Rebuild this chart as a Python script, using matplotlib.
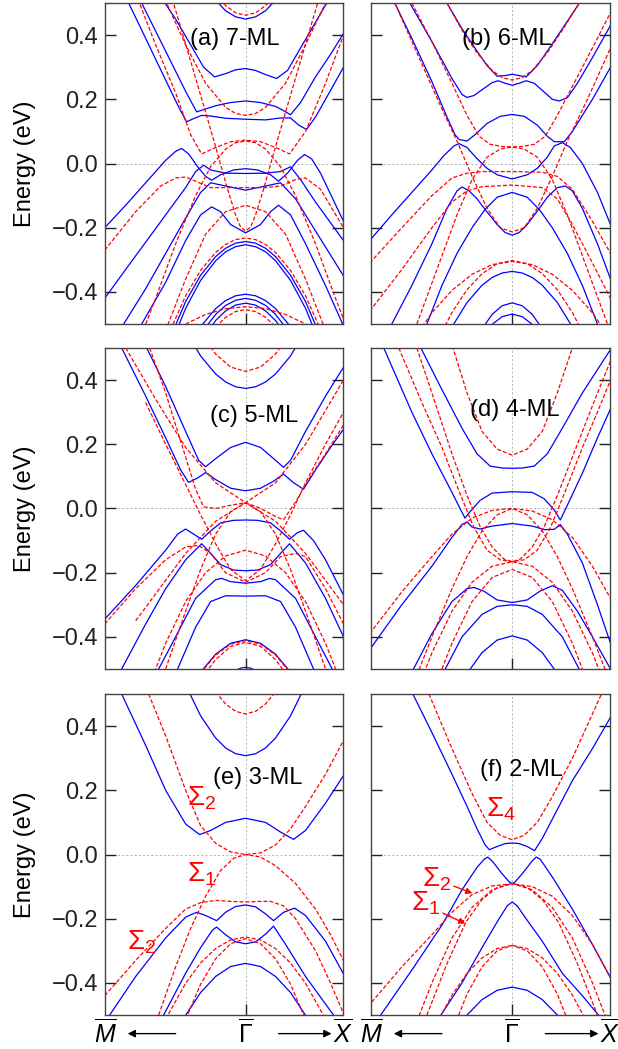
import numpy as np
import matplotlib.pyplot as plt

plt.rcParams['font.family'] = ['Liberation Sans', 'DejaVu Sans']
plt.rcParams['mathtext.fontset'] = 'custom'
plt.rcParams['mathtext.rm'] = 'Liberation Sans'
plt.rcParams['mathtext.it'] = 'Liberation Sans:italic'
plt.rcParams['mathtext.bf'] = 'Liberation Sans:bold'

# k runs from M (left, negative) through Gamma (0) to X (right); energies in eV.
# Each band is a list of (k, E) points.

# ---------------- (a) 7-ML ----------------
A_BLUE = [
    [(-0.4, 0.556), (-0.3, 0.509), (-0.2, 0.476), (-0.1, 0.457), (0, 0.45), (0.1, 0.457), (0.2, 0.476), (0.3, 0.509), (0.4, 0.556)],
    [(-0.85, 0.52), (-0.7, 0.45), (-0.55, 0.37), (-0.42, 0.30), (-0.31, 0.27), (-0.2, 0.28), (-0.1, 0.292), (0, 0.296),
     (0.1, 0.29), (0.2, 0.277), (0.31, 0.265), (0.42, 0.29), (0.55, 0.36), (0.7, 0.44), (0.85, 0.52)],
    [(-1.04, 0.5), (-0.8, 0.35), (-0.6, 0.225), (-0.49, 0.161), (-0.42, 0.168), (-0.3, 0.18), (-0.15, 0.19), (0, 0.195),
     (0.15, 0.19), (0.3, 0.178), (0.38, 0.165), (0.45, 0.152), (0.55, 0.19), (0.7, 0.27), (0.85, 0.34), (0.98, 0.405)],
    [(-1.25, 0.55), (-1.17, 0.5), (-1.0, 0.39), (-0.8, 0.26), (-0.66, 0.17), (-0.59, 0.13), (-0.52, 0.14), (-0.44, 0.15),
     (-0.35, 0.148), (-0.2, 0.141), (0, 0.138), (0.2, 0.136), (0.35, 0.142), (0.45, 0.142), (0.53, 0.12), (0.61, 0.106),
     (0.7, 0.145), (0.8, 0.2), (0.98, 0.3)],
    [(-1.41, -0.2), (-1.2, -0.13), (-1.0, -0.06), (-0.8, 0.01), (-0.7, 0.038), (-0.64, 0.047), (-0.57, 0.03), (-0.48, -0.01),
     (-0.4, -0.04), (-0.34, -0.052), (-0.25, -0.035), (-0.12, -0.02), (0, -0.016), (0.12, -0.02), (0.25, -0.035),
     (0.33, -0.055), (0.42, -0.03), (0.52, 0.01), (0.59, 0.028), (0.66, 0.015), (0.75, -0.03), (0.98, -0.18)],
    [(-1.41, -0.42), (-1.2, -0.33), (-1.0, -0.245), (-0.8, -0.16), (-0.6, -0.075), (-0.5, -0.025), (-0.42, -0.005),
     (-0.35, -0.02), (-0.2, -0.03), (0, -0.031), (0.2, -0.03), (0.35, -0.025), (0.45, -0.01), (0.55, -0.05), (0.7, -0.12),
     (0.98, -0.24)],
    [(-1.22, -0.5), (-1.0, -0.39), (-0.8, -0.28), (-0.6, -0.17), (-0.45, -0.09), (-0.35, -0.06), (-0.2, -0.07), (0, -0.083),
     (0.2, -0.07), (0.35, -0.06), (0.5, -0.11), (0.7, -0.21), (0.98, -0.35)],
    [(-1.04, -0.5), (-0.8, -0.37), (-0.6, -0.24), (-0.45, -0.16), (-0.34, -0.135), (-0.25, -0.15), (-0.15, -0.19), (0, -0.216),
     (0.15, -0.19), (0.25, -0.15), (0.33, -0.13), (0.45, -0.16), (0.6, -0.25), (0.8, -0.38), (1.0, -0.52)],
    [(-0.8, -0.576), (-0.6, -0.43), (-0.45, -0.348), (-0.3, -0.29), (-0.2, -0.264), (-0.1, -0.248), (0, -0.243),
     (0.1, -0.248), (0.2, -0.264), (0.3, -0.29), (0.45, -0.348), (0.6, -0.43), (0.8, -0.576)],
    [(-0.8, -0.605), (-0.6, -0.451), (-0.45, -0.364), (-0.3, -0.303), (-0.2, -0.275), (-0.1, -0.259), (0, -0.253),
     (0.1, -0.259), (0.2, -0.275), (0.3, -0.303), (0.45, -0.364), (0.6, -0.451), (0.8, -0.605)],
    [(-0.45, -0.508), (-0.3, -0.452), (-0.2, -0.427), (-0.1, -0.412), (0, -0.407), (0.1, -0.412), (0.2, -0.427), (0.3, -0.452), (0.45, -0.508)],
    [(-0.45, -0.531), (-0.3, -0.47), (-0.2, -0.442), (-0.1, -0.426), (0, -0.42), (0.1, -0.426), (0.2, -0.442), (0.3, -0.47), (0.45, -0.531)],
    [(-0.45, -0.557), (-0.3, -0.489), (-0.2, -0.459), (-0.1, -0.441), (0, -0.435), (0.1, -0.441), (0.2, -0.459), (0.3, -0.489), (0.45, -0.557)],
]
A_RED = [
    [(-0.3, 0.53), (-0.2, 0.492), (-0.1, 0.4695), (0, 0.462), (0.1, 0.4695), (0.2, 0.492), (0.3, 0.53)],
    [(-0.85, 0.54), (-0.79, 0.5), (-0.6, 0.37), (-0.4, 0.25), (-0.2, 0.175), (-0.1, 0.156), (0, 0.15), (0.1, 0.156),
     (0.2, 0.175), (0.4, 0.25), (0.6, 0.37), (0.8, 0.5)],
    [(-1.1, 0.53), (-0.9, 0.37), (-0.7, 0.22), (-0.55, 0.09), (-0.44, 0.03), (-0.3, 0.05), (-0.15, 0.068), (0, 0.073),
     (0.15, 0.068), (0.3, 0.05), (0.44, 0.03), (0.6, 0.1), (0.8, 0.25), (0.98, 0.40)],
    [(-1.0, -0.5), (-0.9, -0.42), (-0.7, -0.25), (-0.5, -0.1), (-0.35, -0.01), (-0.2, 0.045), (-0.1, 0.065), (0, 0.07),
     (0.1, 0.065), (0.2, 0.045), (0.35, -0.01), (0.5, -0.1), (0.7, -0.25), (0.9, -0.42), (1.0, -0.5)],
    [(-0.75, 0.53), (-0.57, 0.34), (-0.4, 0.16), (-0.27, 0.02), (-0.18, -0.08), (-0.1, -0.16), (-0.05, -0.198), (0, -0.21),
     (0.05, -0.198), (0.1, -0.16), (0.18, -0.08), (0.27, 0.02), (0.4, 0.16), (0.57, 0.34), (0.75, 0.53)],
    [(-1.41, -0.27), (-1.1, -0.15), (-0.85, -0.07), (-0.7, -0.045), (-0.6, -0.042), (-0.5, -0.055), (-0.35, -0.075),
     (-0.2, -0.075), (0, -0.075), (0.2, -0.075), (0.35, -0.07), (0.5, -0.05), (0.6, -0.045), (0.75, -0.08), (0.98, -0.2)],
    [(-0.8, -0.52), (-0.6, -0.36), (-0.4, -0.22), (-0.2, -0.15), (0, -0.13), (0.2, -0.15), (0.4, -0.22), (0.6, -0.36), (0.8, -0.52)],
    [(-0.8, -0.552), (-0.6, -0.412), (-0.45, -0.333), (-0.3, -0.277), (-0.2, -0.252), (-0.1, -0.237), (0, -0.232),
     (0.1, -0.237), (0.2, -0.252), (0.3, -0.277), (0.45, -0.333), (0.6, -0.412), (0.8, -0.552)],
    [(-0.8, -0.542), (-0.6, -0.5), (-0.4, -0.47), (-0.2, -0.452), (0, -0.446), (0.2, -0.452), (0.4, -0.47), (0.6, -0.5), (0.8, -0.542)],
    [(-0.3, -0.509), (-0.2, -0.479), (-0.1, -0.461), (0, -0.455), (0.1, -0.461), (0.2, -0.479), (0.3, -0.509)],
]

# ---------------- (b) 6-ML ----------------
B_BLUE = [
    [(-0.8, 0.6), (-0.65, 0.5), (-0.5, 0.42), (-0.35, 0.35), (-0.25, 0.305), (-0.15, 0.272), (-0.07, 0.274), (0, 0.278),
     (0.07, 0.274), (0.14, 0.27), (0.25, 0.305), (0.35, 0.35), (0.5, 0.42), (0.67, 0.5), (0.8, 0.57)],
    [(-1.02, 0.5), (-0.8, 0.38), (-0.6, 0.265), (-0.5, 0.215), (-0.45, 0.206), (-0.38, 0.212), (-0.3, 0.23), (-0.2, 0.252),
     (-0.14, 0.258), (-0.07, 0.25), (0, 0.244), (0.07, 0.25), (0.14, 0.258), (0.22, 0.25), (0.3, 0.228), (0.4, 0.2),
     (0.47, 0.195), (0.55, 0.205), (0.65, 0.25), (0.8, 0.33), (0.98, 0.43)],
    [(-1.17, 0.5), (-1.0, 0.39), (-0.8, 0.255), (-0.65, 0.145), (-0.57, 0.09), (-0.53, 0.075), (-0.45, 0.07), (-0.37, 0.09),
     (-0.25, 0.125), (-0.12, 0.147), (0, 0.153), (0.12, 0.147), (0.25, 0.12), (0.35, 0.085), (0.42, 0.068), (0.52, 0.068),
     (0.6, 0.1), (0.8, 0.2), (0.98, 0.30)],
    [(-1.42, -0.24), (-1.2, -0.16), (-1.0, -0.09), (-0.8, -0.02), (-0.68, 0.025), (-0.58, 0.055), (-0.53, 0.062),
     (-0.45, 0.05), (-0.35, 0.015), (-0.25, -0.015), (-0.15, -0.035), (0, -0.048), (0.15, -0.035), (0.25, -0.015),
     (0.35, 0.02), (0.42, 0.055), (0.5, 0.065), (0.58, 0.05), (0.7, 0.0), (0.85, -0.09), (0.98, -0.19)],
    [(-1.2, -0.5), (-1.0, -0.38), (-0.8, -0.25), (-0.65, -0.14), (-0.55, -0.085), (-0.5, -0.073), (-0.43, -0.085),
     (-0.35, -0.11), (-0.27, -0.143), (-0.15, -0.19), (-0.07, -0.215), (0, -0.223), (0.07, -0.215), (0.15, -0.19),
     (0.27, -0.14), (0.35, -0.105), (0.45, -0.075), (0.53, -0.07), (0.6, -0.085), (0.7, -0.14), (0.85, -0.25), (0.98, -0.36)],
    [(-1.0, -0.62), (-0.85, -0.5), (-0.7, -0.38), (-0.55, -0.28), (-0.4, -0.2), (-0.27, -0.143), (-0.15, -0.105), (0, -0.09),
     (0.15, -0.105), (0.27, -0.143), (0.4, -0.2), (0.55, -0.28), (0.7, -0.38), (0.85, -0.5), (1.0, -0.62)],
    [(-0.6, -0.509), (-0.45, -0.433), (-0.3, -0.379), (-0.2, -0.355), (-0.1, -0.341), (0, -0.336), (0.1, -0.341),
     (0.2, -0.355), (0.3, -0.379), (0.45, -0.433), (0.6, -0.509)],
    [(-0.3, -0.515), (-0.2, -0.47), (-0.1, -0.443), (0, -0.434), (0.1, -0.443), (0.2, -0.47), (0.3, -0.515)],
    [(-0.3, -0.541), (-0.2, -0.501), (-0.1, -0.477), (0, -0.469), (0.1, -0.477), (0.2, -0.501), (0.3, -0.541)],
]
B_RED = [
    [(-0.65, 0.5), (-0.5, 0.415), (-0.35, 0.345), (-0.2, 0.29), (-0.1, 0.268), (0, 0.26), (0.1, 0.268), (0.2, 0.29),
     (0.35, 0.345), (0.5, 0.415), (0.67, 0.5)],
    [(-1.0, 0.5), (-0.8, 0.38), (-0.6, 0.25), (-0.45, 0.15), (-0.33, 0.085), (-0.22, 0.06), (-0.1, 0.053), (0, 0.052),
     (0.1, 0.053), (0.22, 0.06), (0.33, 0.085), (0.45, 0.15), (0.6, 0.24), (0.8, 0.36), (0.98, 0.47)],
    [(-0.95, -0.5), (-0.75, -0.33), (-0.55, -0.16), (-0.4, -0.05), (-0.25, 0.02), (-0.12, 0.045), (0, 0.052),
     (0.12, 0.045), (0.25, 0.02), (0.4, -0.05), (0.55, -0.16), (0.75, -0.33), (0.95, -0.5)],
    [(-1.42, -0.31), (-1.1, -0.2), (-0.8, -0.1), (-0.6, -0.045), (-0.45, -0.03), (-0.3, -0.025), (0, -0.025),
     (0.3, -0.027), (0.45, -0.04), (0.6, -0.08), (0.8, -0.18), (0.98, -0.28)],
    [(-1.42, -0.46), (-1.1, -0.33), (-0.8, -0.2), (-0.6, -0.12), (-0.45, -0.085), (-0.3, -0.072), (0, -0.067),
     (0.3, -0.075), (0.45, -0.11), (0.6, -0.19), (0.8, -0.31), (0.98, -0.42)],
    [(-1.17, 0.5), (-0.9, 0.31), (-0.7, 0.17), (-0.55, 0.07), (-0.4, -0.04), (-0.25, -0.14), (-0.12, -0.2), (0, -0.213),
     (0.12, -0.2), (0.25, -0.14), (0.4, -0.04), (0.55, 0.07), (0.75, 0.2), (0.98, 0.36)],
    [(-0.75, -0.555), (-0.6, -0.464), (-0.45, -0.393), (-0.3, -0.343), (-0.15, -0.312), (0, -0.302), (0.15, -0.312),
     (0.3, -0.343), (0.45, -0.393), (0.6, -0.464), (0.75, -0.555)],
    [(-1.0, -0.555), (-0.8, -0.465), (-0.6, -0.395), (-0.4, -0.345), (-0.2, -0.315), (0, -0.305), (0.2, -0.315),
     (0.4, -0.345), (0.6, -0.395), (0.8, -0.465), (1.0, -0.555)],
]

# ---------------- (c) 5-ML ----------------
C_BLUE = [
    [(-0.6, 0.554), (-0.45, 0.475), (-0.3, 0.419), (-0.2, 0.394), (-0.1, 0.379), (0, 0.374), (0.1, 0.379), (0.2, 0.394),
     (0.3, 0.419), (0.45, 0.475), (0.6, 0.554)],
    [(-0.99, 0.5), (-0.8, 0.38), (-0.6, 0.24), (-0.47, 0.15), (-0.4, 0.13), (-0.3, 0.155), (-0.15, 0.19), (0, 0.206),
     (0.15, 0.19), (0.3, 0.15), (0.38, 0.128), (0.45, 0.15), (0.6, 0.24), (0.8, 0.35), (0.98, 0.44)],
    [(-1.24, 0.5), (-1.0, 0.35), (-0.8, 0.22), (-0.65, 0.12), (-0.57, 0.081), (-0.48, 0.095), (-0.4, 0.112), (-0.3, 0.09),
     (-0.15, 0.063), (0, 0.055), (0.15, 0.063), (0.28, 0.085), (0.38, 0.107), (0.48, 0.08), (0.58, 0.06), (0.7, 0.12),
     (0.85, 0.19), (0.98, 0.247)],
    [(-1.41, -0.345), (-1.1, -0.24), (-0.8, -0.13), (-0.68, -0.08), (-0.6, -0.064), (-0.52, -0.08), (-0.44, -0.096),
     (-0.35, -0.07), (-0.25, -0.045), (-0.12, -0.037), (0, -0.036), (0.12, -0.037), (0.25, -0.045), (0.35, -0.07),
     (0.44, -0.096), (0.52, -0.075), (0.58, -0.068), (0.68, -0.1), (0.8, -0.16), (0.98, -0.27)],
    [(-1.24, -0.5), (-1.0, -0.36), (-0.8, -0.25), (-0.6, -0.16), (-0.44, -0.11), (-0.35, -0.14), (-0.25, -0.175),
     (-0.12, -0.192), (0, -0.194), (0.12, -0.192), (0.25, -0.175), (0.35, -0.14), (0.44, -0.11), (0.6, -0.17),
     (0.8, -0.28), (0.98, -0.4)],
    [(-0.87, -0.5), (-0.7, -0.4), (-0.5, -0.28), (-0.3, -0.222), (-0.24, -0.218), (-0.15, -0.228), (0, -0.233),
     (0.15, -0.228), (0.24, -0.218), (0.3, -0.222), (0.5, -0.28), (0.7, -0.4), (0.9, -0.52)],
    [(-0.68, -0.5), (-0.5, -0.37), (-0.35, -0.29), (-0.2, -0.272), (0, -0.273), (0.2, -0.272), (0.35, -0.29), (0.5, -0.37), (0.68, -0.5)],
    [(-0.45, -0.51), (-0.3, -0.454), (-0.15, -0.42), (0, -0.409), (0.15, -0.42), (0.3, -0.454), (0.45, -0.51)],
    [(-0.1, -0.505), (-0.05, -0.4975), (0, -0.495), (0.05, -0.4975), (0.1, -0.505)],
]
C_RED = [
    [(-0.45, 0.549), (-0.3, 0.481), (-0.15, 0.4405), (0, 0.427), (0.15, 0.4405), (0.3, 0.481), (0.45, 0.549)],
    [(-0.96, 0.5), (-0.8, 0.36), (-0.6, 0.16), (-0.5, 0.06), (-0.42, 0.005), (-0.3, 0.0), (-0.15, 0.01), (0, 0.018),
     (0.15, 0.0), (0.3, -0.025), (0.38, -0.035), (0.5, 0.02), (0.65, 0.1), (0.8, 0.17), (0.98, 0.26)],
    [(-1.2, 0.5), (-0.9, 0.34), (-0.6, 0.19), (-0.3, 0.08), (0, 0.018), (0.3, -0.04), (0.6, -0.14), (0.98, -0.3)],
    [(-1.1, -0.35), (-0.6, -0.14), (-0.3, -0.04), (0, 0.018), (0.3, 0.08), (0.6, 0.2), (0.98, 0.4)],
    [(-0.8, -0.5), (-0.6, -0.32), (-0.45, -0.19), (-0.3, -0.08), (-0.15, -0.01), (0, 0.018), (0.15, -0.01), (0.3, -0.08),
     (0.45, -0.19), (0.6, -0.32), (0.8, -0.5)],
    [(-1.0, 0.33), (-0.8, 0.2), (-0.64, 0.1), (-0.45, -0.02), (-0.3, -0.11), (-0.15, -0.19), (0, -0.225), (0.15, -0.19),
     (0.3, -0.11), (0.45, -0.02), (0.6, 0.08), (0.8, 0.2), (0.98, 0.3)],
    [(-1.0, -0.58), (-0.8, -0.42), (-0.6, -0.29), (-0.4, -0.2), (-0.2, -0.148), (0, -0.13), (0.2, -0.148), (0.4, -0.2),
     (0.6, -0.29), (0.8, -0.42), (1.0, -0.58)],
    [(-1.41, -0.36), (-1.1, -0.25), (-0.8, -0.16), (-0.6, -0.12), (-0.47, -0.115), (-0.35, -0.14), (-0.2, -0.2), (0, -0.23),
     (0.2, -0.2), (0.35, -0.15), (0.5, -0.14), (0.6, -0.15), (0.8, -0.25), (0.98, -0.36)],
    [(-0.45, -0.513), (-0.3, -0.457), (-0.15, -0.423), (0, -0.412), (0.15, -0.423), (0.3, -0.457), (0.45, -0.513)],
    [(-0.4, -0.513), (-0.3, -0.471), (-0.15, -0.43), (0, -0.417), (0.15, -0.43), (0.3, -0.471), (0.4, -0.513)],
]

# ---------------- (d) 4-ML ----------------
D_BLUE = [
    [(-0.91, 0.5), (-0.7, 0.37), (-0.5, 0.25), (-0.35, 0.17), (-0.22, 0.132), (-0.1, 0.126), (0, 0.125), (0.1, 0.126),
     (0.22, 0.132), (0.35, 0.17), (0.5, 0.25), (0.7, 0.36), (0.99, 0.5)],
    [(-1.28, 0.5), (-1.0, 0.3), (-0.8, 0.17), (-0.6, 0.05), (-0.52, 0.0), (-0.47, -0.03), (-0.42, -0.01), (-0.32, 0.025),
     (-0.2, 0.048), (0, 0.052), (0.2, 0.05), (0.32, 0.03), (0.42, -0.005), (0.48, -0.036), (0.55, 0.01), (0.7, 0.11),
     (0.85, 0.22), (0.98, 0.31)],
    [(-1.42, -0.44), (-1.1, -0.3), (-0.8, -0.18), (-0.6, -0.09), (-0.5, -0.05), (-0.45, -0.042), (-0.4, -0.058),
     (-0.32, -0.064), (-0.2, -0.055), (0, -0.047), (0.2, -0.055), (0.32, -0.066), (0.42, -0.065), (0.48, -0.05),
     (0.55, -0.08), (0.7, -0.17), (0.85, -0.3), (0.98, -0.42)],
    [(-1.0, -0.51), (-0.8, -0.39), (-0.6, -0.29), (-0.45, -0.25), (-0.38, -0.246), (-0.28, -0.258), (-0.15, -0.285),
     (0, -0.293), (0.15, -0.285), (0.28, -0.257), (0.4, -0.241), (0.5, -0.255), (0.65, -0.32), (0.8, -0.4), (0.98, -0.5)],
    [(-0.7, -0.52), (-0.5, -0.4), (-0.3, -0.33), (-0.15, -0.305), (0, -0.3), (0.15, -0.305), (0.3, -0.33), (0.5, -0.4), (0.7, -0.52)],
    [(-0.45, -0.514), (-0.3, -0.449), (-0.15, -0.41), (0, -0.397), (0.15, -0.41), (0.3, -0.449), (0.45, -0.514)],
]
D_RED = [
    [(-0.65, 0.56), (-0.59, 0.5), (-0.45, 0.36), (-0.3, 0.24), (-0.15, 0.185), (0, 0.166), (0.15, 0.185), (0.3, 0.24),
     (0.45, 0.36), (0.6, 0.5)],
    [(-1.42, -0.39), (-1.1, -0.26), (-0.8, -0.15), (-0.6, -0.08), (-0.4, -0.03), (-0.2, -0.006), (0, 0.0), (0.2, -0.008),
     (0.4, -0.035), (0.6, -0.09), (0.8, -0.18), (0.98, -0.28)],
    [(-0.95, -0.52), (-0.8, -0.4), (-0.6, -0.25), (-0.45, -0.15), (-0.3, -0.07), (-0.15, -0.02), (0, 0.0), (0.15, -0.02),
     (0.3, -0.07), (0.45, -0.15), (0.6, -0.25), (0.8, -0.4), (0.95, -0.52)],
    [(-0.95, 0.5), (-0.8, 0.36), (-0.6, 0.17), (-0.45, 0.04), (-0.32, -0.056), (-0.2, -0.12), (-0.08, -0.158), (0, -0.166),
     (0.08, -0.158), (0.2, -0.12), (0.32, -0.056), (0.45, 0.04), (0.6, 0.16), (0.8, 0.32), (0.98, 0.46)],
    [(-1.13, 0.5), (-0.9, 0.33), (-0.7, 0.19), (-0.55, 0.07), (-0.46, 0.0), (-0.38, -0.06), (-0.25, -0.13), (-0.12, -0.16),
     (0, -0.166), (0.12, -0.16), (0.25, -0.13), (0.38, -0.06), (0.46, 0.0), (0.55, 0.07), (0.7, 0.19), (0.85, 0.3), (0.98, 0.4)],
    [(-0.9, -0.53), (-0.8, -0.45), (-0.6, -0.32), (-0.4, -0.23), (-0.2, -0.18), (0, -0.166), (0.2, -0.18), (0.4, -0.23),
     (0.6, -0.32), (0.8, -0.45), (0.9, -0.53)],
    [(-0.7, -0.5), (-0.6, -0.42), (-0.4, -0.29), (-0.2, -0.215), (0, -0.19), (0.2, -0.215), (0.4, -0.29), (0.6, -0.42), (0.7, -0.5)],
]

# ---------------- (e) 3-ML ----------------
E_BLUE = [
    [(-0.6, 0.528), (-0.45, 0.432), (-0.3, 0.363), (-0.2, 0.332), (-0.1, 0.314), (0, 0.308), (0.1, 0.314), (0.2, 0.332),
     (0.3, 0.363), (0.45, 0.432), (0.6, 0.528)],
    [(-1.24, 0.5), (-1.0, 0.34), (-0.8, 0.2), (-0.6, 0.095), (-0.46, 0.062), (-0.35, 0.075), (-0.2, 0.1), (0, 0.113),
     (0.2, 0.1), (0.35, 0.07), (0.48, 0.047), (0.6, 0.075), (0.8, 0.16), (0.98, 0.246)],
    [(-1.36, -0.5), (-1.1, -0.38), (-0.8, -0.26), (-0.6, -0.195), (-0.49, -0.18), (-0.4, -0.19), (-0.29, -0.206),
     (-0.2, -0.18), (-0.1, -0.162), (0, -0.157), (0.1, -0.163), (0.2, -0.185), (0.28, -0.206), (0.38, -0.18),
     (0.49, -0.167), (0.6, -0.19), (0.8, -0.27), (0.98, -0.372)],
    [(-0.82, -0.5), (-0.6, -0.37), (-0.45, -0.29), (-0.33, -0.235), (-0.29, -0.226), (-0.2, -0.25), (-0.1, -0.272),
     (0, -0.278), (0.1, -0.272), (0.2, -0.248), (0.28, -0.223), (0.4, -0.28), (0.6, -0.38), (0.88, -0.5)],
    [(-0.7, -0.56), (-0.6, -0.501), (-0.45, -0.43), (-0.3, -0.38), (-0.15, -0.349), (0, -0.339), (0.15, -0.349),
     (0.3, -0.38), (0.45, -0.43), (0.6, -0.501), (0.7, -0.56)],
]
E_RED = [
    [(-0.3, 0.507), (-0.2, 0.469), (-0.1, 0.446), (0, 0.438), (0.1, 0.446), (0.2, 0.469), (0.3, 0.507)],
    [(-0.97, 0.5), (-0.8, 0.37), (-0.6, 0.2), (-0.45, 0.09), (-0.3, 0.035), (-0.15, 0.008), (0, 0.0), (0.15, 0.005),
     (0.3, 0.03), (0.45, 0.08), (0.6, 0.15), (0.8, 0.25), (0.98, 0.355)],
    [(-0.87, -0.5), (-0.7, -0.35), (-0.55, -0.23), (-0.4, -0.13), (-0.25, -0.05), (-0.12, -0.012), (0, 0.0),
     (0.15, -0.008), (0.3, -0.035), (0.5, -0.09), (0.7, -0.17), (0.85, -0.25), (0.98, -0.33)],
    [(-1.41, -0.44), (-1.1, -0.33), (-0.8, -0.23), (-0.6, -0.17), (-0.45, -0.15), (-0.3, -0.143), (-0.15, -0.146),
     (0, -0.148), (0.15, -0.146), (0.25, -0.146), (0.38, -0.16), (0.5, -0.2), (0.7, -0.3), (0.85, -0.4), (0.98, -0.496)],
    [(-0.8, -0.513), (-0.6, -0.401), (-0.45, -0.338), (-0.3, -0.293), (-0.15, -0.266), (0, -0.257), (0.15, -0.266),
     (0.3, -0.293), (0.45, -0.338), (0.6, -0.401), (0.8, -0.513)],
    [(-0.6, -0.514), (-0.45, -0.404), (-0.3, -0.325), (-0.15, -0.278), (0, -0.262), (0.15, -0.278), (0.3, -0.325),
     (0.45, -0.404), (0.6, -0.514)],
]

# ---------------- (f) 2-ML ----------------
F_BLUE = [
    [(-0.99, 0.5), (-0.8, 0.38), (-0.6, 0.25), (-0.45, 0.15), (-0.35, 0.08), (-0.27, 0.03), (-0.227, 0.015), (-0.15, 0.025),
     (-0.07, 0.034), (0, 0.036), (0.07, 0.034), (0.15, 0.025), (0.223, 0.012), (0.3, 0.05), (0.45, 0.14), (0.6, 0.23),
     (0.8, 0.33), (0.99, 0.433)],
    [(-1.31, -0.5), (-1.0, -0.36), (-0.7, -0.22), (-0.5, -0.11), (-0.35, -0.04), (-0.28, -0.015), (-0.243, -0.008),
     (-0.2, -0.02), (-0.1, -0.06), (-0.03, -0.085), (0, -0.091), (0.03, -0.085), (0.1, -0.06), (0.2, -0.02),
     (0.24, -0.008), (0.28, -0.015), (0.4, -0.07), (0.6, -0.17), (0.8, -0.28), (0.99, -0.39)],
    [(-0.71, -0.5), (-0.5, -0.4), (-0.3, -0.29), (-0.15, -0.21), (-0.05, -0.16), (0, -0.148), (0.05, -0.16), (0.15, -0.205),
     (0.3, -0.27), (0.5, -0.37), (0.7, -0.44), (0.86, -0.5)],
    [(-0.45, -0.5), (-0.3, -0.452), (-0.15, -0.423), (0, -0.413), (0.15, -0.423), (0.3, -0.452), (0.45, -0.5)],
]
F_RED = [
    [(-0.83, 0.5), (-0.6, 0.33), (-0.4, 0.19), (-0.25, 0.1), (-0.12, 0.06), (0, 0.046), (0.12, 0.06), (0.25, 0.1),
     (0.4, 0.18), (0.6, 0.3), (0.89, 0.5)],
    [(-1.4, -0.46), (-1.1, -0.35), (-0.8, -0.25), (-0.6, -0.18), (-0.4, -0.125), (-0.2, -0.098), (0, -0.091), (0.2, -0.1),
     (0.4, -0.13), (0.6, -0.19), (0.8, -0.28), (0.99, -0.39)],
    [(-0.85, -0.5), (-0.65, -0.34), (-0.46, -0.21), (-0.3, -0.14), (-0.15, -0.103), (0, -0.091), (0.15, -0.103),
     (0.3, -0.14), (0.46, -0.21), (0.65, -0.34), (0.85, -0.5)],
    [(-0.95, -0.52), (-0.8, -0.4), (-0.6, -0.26), (-0.4, -0.165), (-0.2, -0.11), (0, -0.09), (0.2, -0.11), (0.4, -0.165),
     (0.6, -0.26), (0.8, -0.4), (0.95, -0.52)],
    [(-0.75, -0.525), (-0.6, -0.438), (-0.45, -0.37), (-0.3, -0.322), (-0.15, -0.293), (0, -0.283), (0.15, -0.293),
     (0.3, -0.322), (0.45, -0.37), (0.6, -0.438), (0.75, -0.525)],
    [(-0.6, -0.553), (-0.45, -0.435), (-0.3, -0.35), (-0.15, -0.3), (0, -0.283), (0.15, -0.3), (0.3, -0.35),
     (0.45, -0.435), (0.6, -0.553)],
]

PANEL_TITLES = ["(a) 7-ML", "(b) 6-ML", "(c) 5-ML", "(d) 4-ML", "(e) 3-ML", "(f) 2-ML"]
YTICKS = [-0.4, -0.2, 0.0, 0.2, 0.4]
YTICKLABELS = ['\u22120.4', '\u22120.2', '0.0', '0.2', '0.4']

BLUE = '#0000ff'
RED = '#ff0000'
FS = 17
SFS = 20   # size of the Sigma labels

fig = plt.figure(figsize=(6.18, 10.49), dpi=100)

col_left = [105 / 618, 371 / 618]
col_w = [238 / 618, 239 / 618]
row_bottom = [0.6911, 0.3623, 0.0324]
row_h = 321 / 1049

title_pos = [(-0.557, 0.387), (-0.50, 0.387), (-0.357, 0.287),
             (-0.417, 0.306), (-0.327, 0.237), (-0.317, 0.262)]

blue_sets = [A_BLUE, B_BLUE, C_BLUE, D_BLUE, E_BLUE, F_BLUE]
red_sets = [A_RED, B_RED, C_RED, D_RED, E_RED, F_RED]

axes = []
for i in range(6):
    r, c = divmod(i, 2)
    ax = fig.add_axes([col_left[c], row_bottom[r], col_w[c], row_h])
    axes.append(ax)

    ax.axhline(0, color='#aaaaaa', lw=0.6, ls=(0, (2.5, 2.5)), zorder=1)
    ax.axvline(0, color='#aaaaaa', lw=0.6, ls=(0, (2.5, 2.5)), zorder=1)

    for band in blue_sets[i]:
        k, e = np.array(band).T
        ax.plot(k, e, color=BLUE, lw=0.9, zorder=2)
    for band in red_sets[i]:
        k, e = np.array(band).T
        ax.plot(k, e, color=RED, lw=0.9, dashes=(3.2, 1.6), zorder=3)

    ax.set_xlim(-1.407, 0.975)
    ax.set_ylim(-0.5, 0.5)
    ax.set_yticks(YTICKS)
    ax.set_xticks([0])
    ax.tick_params(axis='y', which='both', direction='in', length=8, width=1.0,
                   left=True, right=True, labelsize=FS, pad=5, colors='#222222')
    ax.tick_params(axis='x', direction='in', length=8, width=1.0,
                   bottom=True, top=False, labelbottom=False, colors='#222222')
    for s in ax.spines.values():
        s.set_linewidth(1.0)
        s.set_color('#444444')
    if c == 0:
        ax.set_yticklabels(YTICKLABELS)
    else:
        ax.set_yticklabels([])

    tx, ty = title_pos[i]
    ax.text(tx, ty, PANEL_TITLES[i], fontsize=FS, ha='left', va='center', color='black', zorder=5)

# y labels
for yc in [0.8441, 0.5153, 0.1854]:
    fig.text(25 / 618, yc, 'Energy (eV)', rotation=90, ha='center', va='center', fontsize=FS)

# Sigma labels
axE, axF = axes[4], axes[5]
axE.text(-0.59, 0.175, 'Σ$_2$', color=RED, fontsize=SFS, ha='left', va='center')
axE.text(-0.59, -0.06, 'Σ$_1$', color=RED, fontsize=SFS, ha='left', va='center')
axE.text(-1.19, -0.272, 'Σ$_2$', color=RED, fontsize=SFS, ha='left', va='center')
axF.text(-0.26, 0.14, 'Σ$_4$', color=RED, fontsize=SFS, ha='left', va='center')
axF.annotate('Σ$_2$', xy=(-0.397, -0.121), xytext=(-0.90, -0.078), color=RED, fontsize=SFS,
             ha='left', va='center',
             arrowprops=dict(arrowstyle='-|>', color=RED, lw=1.0, mutation_scale=9, shrinkA=0, shrinkB=0,
                             relpos=(1.0, 0.3)))
axF.annotate('Σ$_1$', xy=(-0.467, -0.215), xytext=(-1.01, -0.153), color=RED, fontsize=SFS,
             ha='left', va='center',
             arrowprops=dict(arrowstyle='-|>', color=RED, lw=1.0, mutation_scale=9, shrinkA=0, shrinkB=0,
                             relpos=(1.0, 0.2)))

# k-path labels under bottom panels
for ax in (axE, axF):
    tr = ax.get_xaxis_transform()
    yb = -0.058
    ax.text(-1.407, yb, r'$\overline{M}$', transform=tr, ha='center', va='center', fontsize=18, clip_on=False)
    ax.text(0.0, yb, r'$\overline{\Gamma}$', transform=tr, ha='center', va='center', fontsize=18, clip_on=False)
    ax.text(0.975, yb, r'$\overline{X}$', transform=tr, ha='center', va='center', fontsize=18, clip_on=False)
    ax.annotate('', xy=(-1.18, yb), xytext=(-0.70, yb), xycoords=tr, textcoords=tr,
                arrowprops=dict(arrowstyle='-|>', color='black', lw=1.0, mutation_scale=11, shrinkA=0, shrinkB=0),
                annotation_clip=False)
    ax.annotate('', xy=(0.86, yb), xytext=(0.33, yb), xycoords=tr, textcoords=tr,
                arrowprops=dict(arrowstyle='-|>', color='black', lw=1.0, mutation_scale=11, shrinkA=0, shrinkB=0),
                annotation_clip=False)

fig.savefig('out.png', dpi=100)
